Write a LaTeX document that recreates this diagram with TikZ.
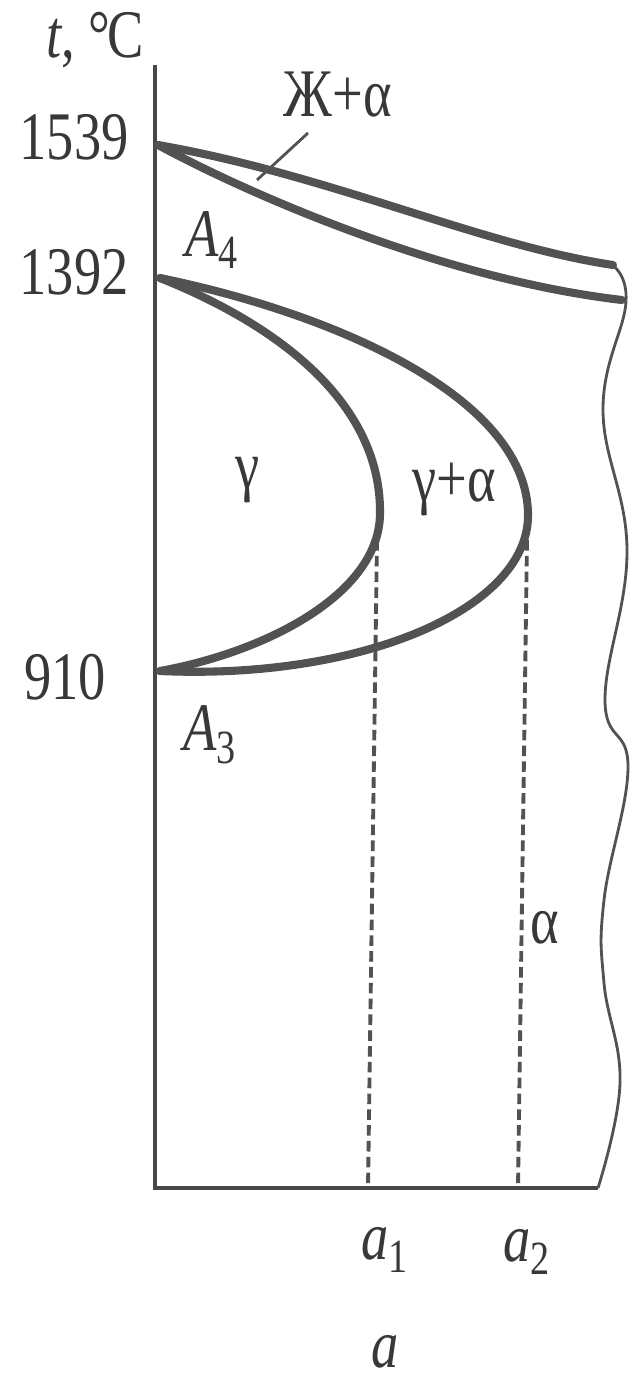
\documentclass[tikz,border=0pt]{standalone}
\usepackage{fontspec}
\setmainfont{Liberation Serif}
\usetikzlibrary{positioning}

\begin{document}
\begin{tikzpicture}[
  x=0.2mm, y=-0.2mm,
  lbl/.style={inner sep=0pt, font=\fontsize{31}{33}\selectfont, text=black!78,
              yscale=1.25, transform shape},
  phase/.style={line width=4.6pt, draw=black!68, line cap=round, line join=round},
  axis/.style={line width=2.2pt, draw=black!72},
  guide/.style={line width=2.2pt, draw=black!68, dash pattern=on 6pt off 3pt},
  edge/.style={line width=1.6pt, draw=black!68}
]
\useasboundingbox (0,0) rectangle (635,1383);

% key points
\coordinate (top) at (155,65);
\coordinate (origin) at (155,1188);
\coordinate (corner) at (598,1188);
\coordinate (Tm) at (158,145);
\coordinate (A4) at (160,278);
\coordinate (A3) at (160,671);
\coordinate (endL) at (613,265);
\coordinate (endS) at (622,300);
\coordinate (n1) at (380,515);
\coordinate (n2) at (528,517);
\coordinate (b1) at (377,540);
\coordinate (b2) at (527,540);
\coordinate (f1) at (368,1188);
\coordinate (f2) at (518,1188);

% frame
\draw[axis] (top) -- (origin) -- (corner);
\draw[edge] plot[smooth, tension=0.7] coordinates {(612,265) (626,302) (603,410)
  (627,550) (605,700) (628,767) (604,900) (604,983) (620,1083) (598,1188)};

% liquidus and solidus
\draw[phase] (Tm) .. controls (330,175) and (480,245) .. (endL);
\draw[phase] (Tm) .. controls (260,200) and (450,280) .. (endS);

% gamma loop
\draw[phase] (A4) .. controls (290,330) and (382,410) .. (n1)
  .. controls (378,595) and (265,652) .. (A3);
\draw[phase] (A4) .. controls (340,315) and (530,400) .. (n2)
  .. controls (526,610) and (360,680) .. (A3);

% concentrations
\draw[guide] (b1) -- (f1);
\draw[guide] (b2) -- (f2);

% labels
\node[lbl] (unit) at (95,40) {\textit{t}, °\kern-0.06em C};
\node[lbl] (t1539) at (74,137) {1539};
\node[lbl] (t1392) at (74,272) {1392};
\node[lbl] (t910) at (65,677) {910};
\node[lbl] (lA4) at (212,240) {\textit{A}\textsubscript{4}};
\node[lbl] (lA3) at (210,735) {\textit{A}\textsubscript{3}};
\node[lbl] (liq) at (338,95) {Ж+α};
\coordinate (tick) at (257,180);
\draw[edge] (tick) -- (308,133);
\node[lbl] (gam) at (248,480) {γ};
\node[lbl] (gamal) at (454,490) {γ+α};
\node[lbl] (alp) at (545,928) {α};
\node[lbl] (la1) at (385,1250) {\textit{a}\textsubscript{1}};
\node[lbl] (la2) at (527,1252) {\textit{a}\textsubscript{2}};
\node[lbl] (la) at (385,1352) {\textit{a}};
\end{tikzpicture}
\end{document}
